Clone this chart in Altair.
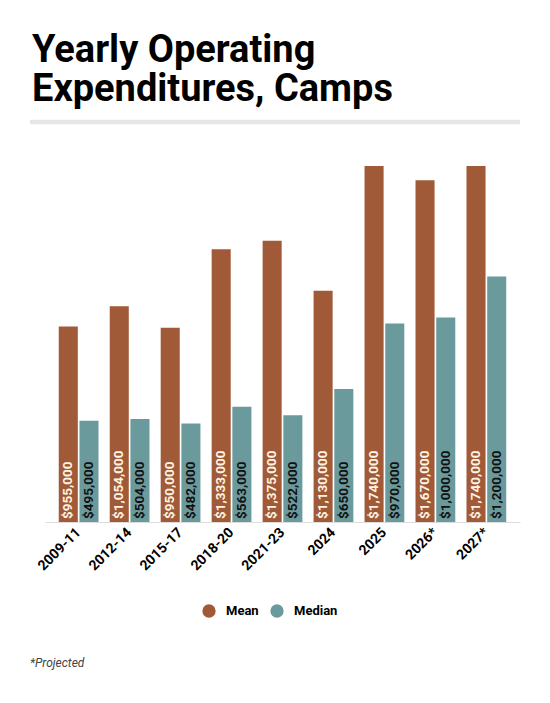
import altair as alt
import pandas as pd

periods = ["2009-11", "2012-14", "2015-17", "2018-20", "2021-23", "2024", "2025", "2026*", "2027*"]
mean_vals = [955000, 1054000, 950000, 1333000, 1375000, 1130000, 1740000, 1670000, 1740000]
median_vals = [495000, 504000, 482000, 563000, 522000, 650000, 970000, 1000000, 1200000]
series_names = ["Mean", "Median"]
series_colors = ["#A15A37", "#6B9A9D"]
title_text = "Yearly Operating\nExpenditures, Camps"
footnote = "*Projected"

rows = []
for p, m, md in zip(periods, mean_vals, median_vals):
    rows.append({"period": p, "series": "Mean", "value": m})
    rows.append({"period": p, "series": "Median", "value": md})
df = pd.DataFrame(rows)

W, H = 475, 356
FONT = "Roboto"

base = alt.Chart(df).encode(
    x=alt.X("period:N", sort=periods, title=None,
            scale=alt.Scale(paddingInner=0.22, paddingOuter=0.27),
            axis=alt.Axis(labelAngle=-45, labelAlign="right", labelBaseline="middle",
                          labelPadding=8, ticks=False, domainColor="#dddddd",
                          labelFont=FONT, labelFontWeight="bold", labelFontSize=14,
                          labelColor="#000000")),
    xOffset=alt.XOffset("series:N", sort=series_names,
                        scale=alt.Scale(paddingInner=0.08, paddingOuter=0)),
)

bars = base.mark_bar().encode(
    y=alt.Y("value:Q", scale=alt.Scale(domain=[0, 1740000], nice=False), axis=None),
    color=alt.Color("series:N", sort=series_names,
                    scale=alt.Scale(domain=series_names, range=series_colors),
                    legend=alt.Legend(title=None, orient="none", legendX=157, legendY=438,
                                      direction="horizontal", symbolType="circle",
                                      symbolSize=177, symbolStrokeWidth=0, symbolOpacity=1,
                                      labelFont=FONT, labelFontWeight="bold",
                                      labelFontSize=13, labelColor="#000000",
                                      labelOffset=10, columnPadding=11)),
)

labels = base.mark_text(angle=270, align="left", baseline="middle", font=FONT,
                        fontWeight="bold", fontSize=13.5).encode(
    y=alt.value(H - 3),
    text=alt.Text("value:Q", format="$,.0f"),
    color=alt.condition(alt.datum.series == "Mean", alt.value("#FFF4E4"), alt.value("#111111")),
)

title = alt.Chart(pd.DataFrame({"t": [title_text]})).mark_text(
    align="left", baseline="alphabetic", font=FONT, fontWeight="bold", fontSize=38,
    lineBreak="\n", lineHeight=39,
    color="#000000").encode(text="t:N", x=alt.value(-13), y=alt.value(-104))
rule = alt.Chart(pd.DataFrame({"a": [0]})).mark_rule(color="#e6e6e6", strokeWidth=4.5).encode(
    x=alt.value(-15), x2=alt.value(475), y=alt.value(-44))
foot = alt.Chart(pd.DataFrame({"t": [footnote]})).mark_text(
    align="left", baseline="alphabetic", font=FONT, fontStyle="italic", fontSize=12,
    color="#444444").encode(text="t:N", x=alt.value(-15), y=alt.value(500.5))

chart = alt.layer(bars, labels, title, rule, foot).properties(
    width=W, height=H,
    autosize=alt.AutoSizeParams(type="none"),
    padding={"left": 45, "top": 166, "right": 30, "bottom": 181},
    background="white",
).configure_view(stroke=None)

chart.save("out.html", embed_options={"renderer": "svg", "actions": False})
